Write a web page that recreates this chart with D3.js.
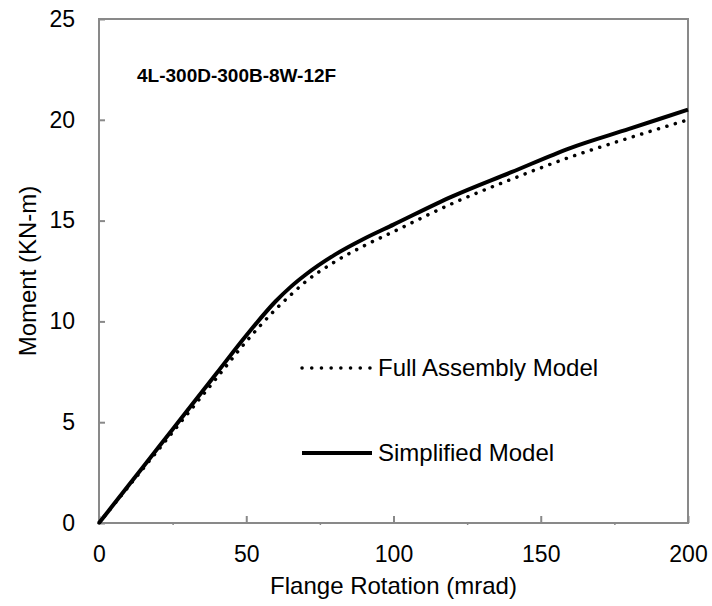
<!DOCTYPE html>
<html><head><meta charset="utf-8">
<script src="https://cdn.jsdelivr.net/npm/d3@7"></script>
<style>body{margin:0;background:#fff}svg{display:block;font-family:"Liberation Sans",Arial,sans-serif}</style>
</head><body><div id="chart"></div>
<script>
const rotation = [0,10,20,30,40,50,60,65,70,80,90,100,120,140,160,180,200];
const fullAssembly = [0,1.8,3.6,5.4,7.2,9.0,10.6,11.3,11.95,12.95,13.75,14.45,15.85,17.05,18.15,19.1,20.0];
const simplified = [0,1.86,3.72,5.58,7.44,9.3,11.0,11.7,12.3,13.3,14.1,14.8,16.2,17.4,18.6,19.55,20.5];
const xTicks = [0,50,100,150,200];
const xMinor = [25,75,125,175];
const yTicks = [0,5,10,15,20,25];
const seriesNames = ["Full Assembly Model","Simplified Model"];
const titleText = "4L-300D-300B-8W-12F";

const W=712,H=606;
const m={l:99,t:19,r:24,b:83};
const svg=d3.select("#chart").append("svg").attr("width",W).attr("height",H);
const x=d3.scaleLinear().domain([0,200]).range([m.l,W-m.r]);
const y=d3.scaleLinear().domain([0,25]).range([H-m.b,m.t]);
const axisCol="#898989";
const FF="Liberation Sans, Arial, sans-serif";

svg.append("g").attr("transform",`translate(0,${y(0)})`)
  .call(d3.axisBottom(x).tickValues(xMinor).tickSize(2).tickFormat(""))
  .call(g=>{g.select(".domain").remove();g.selectAll("line").attr("stroke",axisCol).attr("stroke-width",1.5);});
const gx=svg.append("g").attr("transform",`translate(0,${y(0)})`)
  .call(d3.axisBottom(x).tickValues(xTicks).tickSizeInner(-7).tickSizeOuter(0).tickPadding(23));
gx.select(".domain").remove();
gx.selectAll("line").attr("stroke",axisCol).attr("stroke-width",2);
gx.selectAll("text").attr("font-size",23).attr("fill","#000").attr("font-family",FF);

const gy=svg.append("g").attr("transform",`translate(${x(0)},0)`)
  .call(d3.axisLeft(y).tickValues(yTicks).tickSizeInner(-6).tickSizeOuter(0).tickPadding(24));
gy.select(".domain").remove();
gy.selectAll("line").attr("stroke",axisCol).attr("stroke-width",2);
gy.selectAll("text").attr("font-size",23).attr("fill","#000").attr("font-family",FF);

svg.append("rect").attr("x",x(0)).attr("y",y(25)).attr("width",x(200)-x(0)).attr("height",y(0)-y(25))
  .attr("fill","none").attr("stroke",axisCol).attr("stroke-width",2);

const line=d3.line().x((d,i)=>x(rotation[i])).y(d=>y(d)).curve(d3.curveMonotoneX);
svg.append("path").datum(fullAssembly).attr("d",line).attr("fill","none").attr("stroke","#000")
  .attr("stroke-width",3.5).attr("stroke-linecap","round").attr("stroke-dasharray","0.1 8.7");
svg.append("path").datum(simplified).attr("d",line).attr("fill","none").attr("stroke","#000")
  .attr("stroke-width",4);

svg.append("text").attr("x",137).attr("y",82).attr("font-size",19).attr("font-weight","bold").text(titleText);

const lg=svg.append("g");
lg.append("line").attr("x1",302).attr("x2",370).attr("y1",368).attr("y2",368).attr("stroke","#000")
  .attr("stroke-width",3.5).attr("stroke-linecap","round").attr("stroke-dasharray","0.1 9.6");
lg.append("text").attr("x",378).attr("y",368).attr("dy","0.35em").attr("font-size",24).text(seriesNames[0]);
lg.append("line").attr("x1",302).attr("x2",372).attr("y1",453).attr("y2",453).attr("stroke","#000").attr("stroke-width",4);
lg.append("text").attr("x",378).attr("y",453).attr("dy","0.35em").attr("font-size",24).text(seriesNames[1]);

svg.append("text").attr("x",(x(0)+x(200))/2).attr("y",594).attr("text-anchor","middle").attr("font-size",24).text("Flange Rotation (mrad)");
svg.append("text").attr("transform",`translate(36,${(y(0)+y(25))/2}) rotate(-90)`).attr("text-anchor","middle").attr("font-size",24).text("Moment (KN-m)");
</script></body></html>
